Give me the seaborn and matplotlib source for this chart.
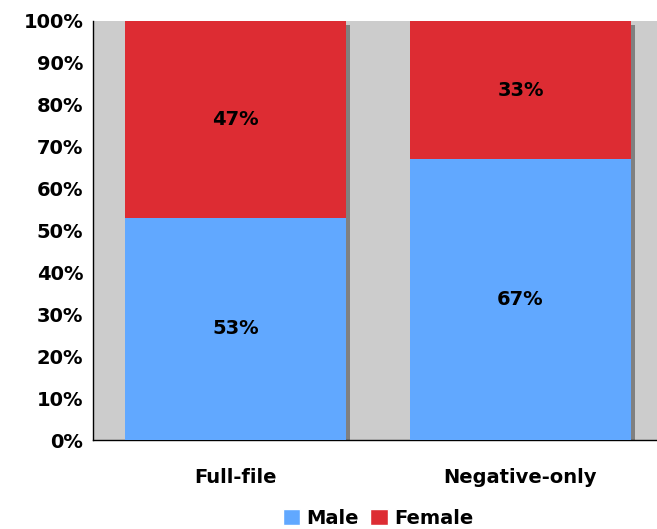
import matplotlib
matplotlib.use("Agg")
import matplotlib.pyplot as plt
import seaborn as sns
import pandas as pd
import numpy as np
from matplotlib.patches import Patch

categories = ["Full-file", "Negative-only"]
male = [53, 67]
female = [47, 33]
yticks = [0, 10, 20, 30, 40, 50, 60, 70, 80, 90, 100]

sns.set_theme(style="white")
plt.rcParams['font.family'] = ['DejaVu Sans']
plt.rcParams['font.weight'] = 'bold'
plt.rcParams['text.color'] = 'black'
plt.rcParams['xtick.color'] = 'black'
plt.rcParams['ytick.color'] = 'black'

BLUE = "#61a8ff"
RED = "#dd2c33"
BG = "#cccccc"
SHADOW = "#808080"
FS = 14

df = pd.DataFrame({"cat": categories, "male": male, "female": female})
df["total"] = df["male"] + df["female"]

fig = plt.figure(figsize=(6.57, 5.29), dpi=100)
ax = fig.add_axes([93/657, 1-440/529, 570/657, (440-21)/529])
ax.set_facecolor(BG)

width = 0.775
x = np.arange(len(categories))
# shadow
ax.bar(x + 0.014, df["total"] - 1, width=width, color=SHADOW, zorder=1, linewidth=0)
sns.barplot(data=df, x="cat", y="total", color=RED, width=width, ax=ax,
            saturation=1, zorder=2, linewidth=0)
sns.barplot(data=df, x="cat", y="male", color=BLUE, width=width, ax=ax,
            saturation=1, zorder=3, linewidth=0)

for i, (m, f) in enumerate(zip(male, female)):
    ax.text(i, m / 2, f"{m}%", ha="center", va="center", fontsize=FS,
            fontweight="bold", color="black", zorder=5)
    ax.text(i, m + f / 2, f"{f}%", ha="center", va="center", fontsize=FS,
            fontweight="bold", color="black", zorder=5)

ax.set_xlim(-0.5, 1.5)
ax.set_ylim(0, 100)
ax.set_yticks(yticks)
ax.set_yticklabels([f"{t}%" for t in yticks], fontsize=FS, fontweight="bold")
ax.set_xticks([-0.5, 0.5, 1.5])
ax.set_xticklabels(["", "", ""])
ax.set_xticks([0, 1], minor=True)
ax.set_xticklabels(categories, minor=True, fontsize=FS, fontweight="bold")
ax.tick_params(axis="x", which="minor", length=0, pad=20)
ax.tick_params(axis="x", which="major", length=5, width=1, color="black", direction="out")
ax.tick_params(axis="y", length=5, width=1, color="black", direction="out", pad=2)
ax.set_xlabel("")
ax.set_ylabel("")
for s in ["top", "right"]:
    ax.spines[s].set_visible(False)
for s in ["left", "bottom"]:
    ax.spines[s].set_color("black")
    ax.spines[s].set_linewidth(1)

handles = [Patch(facecolor=BLUE, label="Male"), Patch(facecolor=RED, label="Female")]
fig.legend(handles=handles, loc="center", bbox_to_anchor=(378/657, 1-518/529),
           ncol=2, frameon=False, prop={"size": FS, "weight": "bold"},
           handlelength=0.9, handleheight=0.9, handletextpad=0.3, columnspacing=0.6)

fig.savefig("out.png", dpi=100)
